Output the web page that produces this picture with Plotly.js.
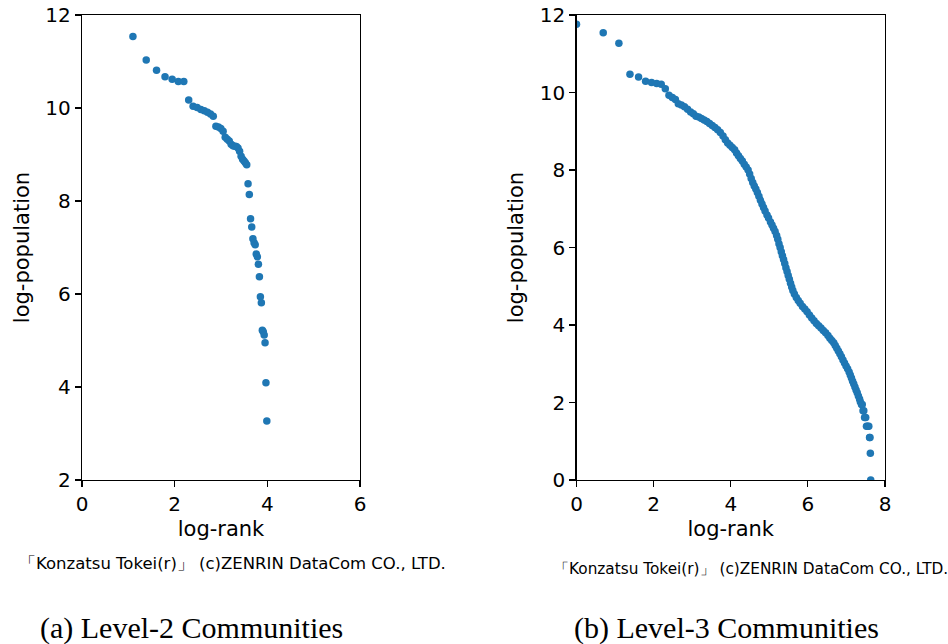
<!DOCTYPE html>
<html>
<head>
<meta charset="utf-8">
<script src="https://cdn.plot.ly/plotly-3.0.1.min.js"></script>
<style>html,body{margin:0;padding:0;background:#fff;}#chart{width:948px;height:644px;}</style>
</head>
<body>
<div id="chart"></div>
<script>
// (a) Level-2 communities: log-rank vs log-population
const level2LogRank = [1.099, 1.386, 1.609, 1.792, 1.946, 2.079, 2.197, 2.303, 2.398, 2.485,
  2.565, 2.639, 2.708, 2.773, 2.833, 2.890, 2.944, 2.996, 3.045, 3.091,
  3.135, 3.178, 3.219, 3.258, 3.296, 3.332, 3.367, 3.401, 3.434, 3.466,
  3.497, 3.526, 3.555, 3.584, 3.611, 3.638, 3.664, 3.689, 3.714, 3.738,
  3.761, 3.784, 3.807, 3.829, 3.850, 3.871, 3.892, 3.912, 3.932, 3.951,
  3.970, 3.989];
const level2LogPop = [11.54, 11.03, 10.81, 10.67, 10.62, 10.57, 10.57, 10.17, 10.04, 10.01,
  9.97, 9.94, 9.91, 9.87, 9.82, 9.61, 9.59, 9.56, 9.50, 9.37,
  9.33, 9.29, 9.22, 9.19, 9.18, 9.17, 9.14, 9.07, 8.96, 8.90,
  8.86, 8.82, 8.78, 8.37, 8.14, 7.62, 7.44, 7.19, 7.10, 7.06,
  6.86, 6.80, 6.64, 6.37, 5.94, 5.81, 5.22, 5.19, 5.12, 4.95,
  4.09, 3.27];

// (b) Level-3 communities: log-rank vs log-population (read along the plotted band)
const level3LogRank = [0.000, 0.693, 1.099, 1.386, 1.609, 1.792, 1.946, 2.079, 2.197, 2.303,
  2.398, 2.485, 2.565, 2.64, 2.72, 2.80, 2.88, 2.96, 3.03, 3.10,
  3.17, 3.24, 3.31, 3.38, 3.45, 3.52, 3.59, 3.66, 3.73, 3.80,
  3.86, 3.92, 3.98, 4.04, 4.10, 4.15, 4.20, 4.25, 4.30, 4.35,
  4.40, 4.45, 4.49, 4.53, 4.57, 4.61, 4.65, 4.69, 4.73, 4.77,
  4.81, 4.85, 4.89, 4.94, 4.98, 5.03, 5.07, 5.11, 5.15, 5.19,
  5.22, 5.25, 5.28, 5.31, 5.34, 5.37, 5.40, 5.43, 5.46, 5.49,
  5.52, 5.55, 5.58, 5.61, 5.65, 5.70, 5.75, 5.80, 5.86, 5.92,
  5.98, 6.04, 6.10, 6.16, 6.22, 6.28, 6.34, 6.40, 6.46, 6.52,
  6.57, 6.62, 6.67, 6.71, 6.75, 6.79, 6.83, 6.87, 6.91, 6.95,
  6.99, 7.03, 7.07, 7.10, 7.13, 7.16, 7.19, 7.22, 7.25, 7.28,
  7.31, 7.34, 7.36, 7.39, 7.41, 7.43, 7.45, 7.47, 7.50, 7.52,
  7.55, 7.58, 7.60, 7.61, 7.62, 7.63];
const level3LogPop = [11.76, 11.54, 11.27, 10.47, 10.40, 10.29, 10.26, 10.23, 10.21, 10.10,
  9.93, 9.87, 9.82, 9.71, 9.68, 9.63, 9.57, 9.50, 9.45, 9.39,
  9.37, 9.33, 9.29, 9.25, 9.20, 9.15, 9.10, 9.04, 8.97, 8.88,
  8.78, 8.70, 8.64, 8.58, 8.52, 8.44, 8.37, 8.30, 8.23, 8.15,
  8.08, 8.00, 7.90, 7.78, 7.68, 7.59, 7.51, 7.42, 7.32, 7.22,
  7.12, 7.03, 6.94, 6.84, 6.76, 6.66, 6.58, 6.50, 6.41, 6.31,
  6.21, 6.10, 6.00, 5.89, 5.79, 5.69, 5.59, 5.48, 5.38, 5.28,
  5.18, 5.08, 4.98, 4.89, 4.80, 4.71, 4.63, 4.56, 4.48, 4.41,
  4.34, 4.26, 4.18, 4.11, 4.04, 3.98, 3.92, 3.86, 3.80, 3.73,
  3.66, 3.60, 3.54, 3.47, 3.40, 3.33, 3.26, 3.18, 3.10, 3.02,
  2.94, 2.87, 2.79, 2.71, 2.63, 2.55, 2.48, 2.40, 2.32, 2.25,
  2.17, 2.09, 2.02, 1.95, 1.95, 1.79, 1.79, 1.61, 1.61, 1.39,
  1.39, 1.39, 1.10, 1.10, 0.69, 0.00];

// tick values
const leftXTicks = [0, 2, 4, 6];
const leftYTicks = [2, 4, 6, 8, 10, 12];
const rightXTicks = [0, 2, 4, 6, 8];
const rightYTicks = [0, 2, 4, 6, 8, 10, 12];

const creditText = '「Konzatsu Tokei(r)」 (c)ZENRIN DataCom CO., LTD.';
const captionA = '(a) Level-2 Communities';
const captionB = '(b) Level-3 Communities';

const blue = '#1f77b4';
const tickFont = {family: 'DejaVu Sans, sans-serif', size: 20, color: '#000'};
const titleFont = {family: 'DejaVu Sans, sans-serif', size: 21, color: '#000'};

const W = 948, H = 644;
const px = v => v / W;
const py = v => 1 - v / H;

const traces = [
  {x: level2LogRank, y: level2LogPop, xaxis: 'x', yaxis: 'y', type: 'scatter', mode: 'markers',
   marker: {color: blue, size: 7.5, line: {width: 0}}, hoverinfo: 'x+y'},
  {x: level3LogRank, y: level3LogPop, xaxis: 'x2', yaxis: 'y2', type: 'scatter', mode: 'markers',
   marker: {color: blue, size: 7.5, line: {width: 0}}, hoverinfo: 'x+y'}
];

function axis(extra) {
  return Object.assign({
    showgrid: false, zeroline: false, showline: true, mirror: true,
    linecolor: '#000', linewidth: 1.2, ticks: 'outside', ticklen: 6, tickwidth: 1.2,
    tickcolor: '#000', tickfont: tickFont, tickmode: 'array', fixedrange: true
  }, extra);
}

const layout = {
  width: W, height: H,
  margin: {l: 0, r: 0, t: 0, b: 0},
  paper_bgcolor: '#fff', plot_bgcolor: '#fff',
  showlegend: false,
  xaxis: axis({domain: [px(82), px(360)], range: [0, 6], tickvals: leftXTicks, anchor: 'y',
    title: {text: 'log-rank', font: titleFont, standoff: 6}}),
  yaxis: axis({domain: [py(480), py(15)], range: [2, 12], tickvals: leftYTicks, anchor: 'x',
    title: {text: 'log-population', font: titleFont, standoff: 10}}),
  xaxis2: axis({domain: [px(576.5), px(885)], range: [0, 8], tickvals: rightXTicks, anchor: 'y2',
    title: {text: 'log-rank', font: titleFont, standoff: 6}}),
  yaxis2: axis({domain: [py(480), py(15)], range: [0, 12], tickvals: rightYTicks, anchor: 'x2',
    title: {text: 'log-population', font: titleFont, standoff: 10}}),
  annotations: [
    {text: creditText, xref: 'paper', yref: 'paper', x: px(232), y: py(563), showarrow: false,
     xanchor: 'center', yanchor: 'middle', font: {family: 'DejaVu Sans, sans-serif', size: 16.5, color: '#000'}},
    {text: creditText, xref: 'paper', yref: 'paper', x: px(751), y: py(569), showarrow: false,
     xanchor: 'center', yanchor: 'middle', font: {family: 'DejaVu Sans, sans-serif', size: 15.3, color: '#000'}},
    {text: captionA, xref: 'paper', yref: 'paper', x: px(191), y: py(628), showarrow: false,
     xanchor: 'center', yanchor: 'middle', font: {family: 'Liberation Serif', size: 30, color: '#000'}},
    {text: captionB, xref: 'paper', yref: 'paper', x: px(726), y: py(628), showarrow: false,
     xanchor: 'center', yanchor: 'middle', font: {family: 'Liberation Serif', size: 30, color: '#000'}}
  ]
};

Plotly.newPlot('chart', traces, layout, {displayModeBar: false, staticPlot: true});
</script>
</body>
</html>
